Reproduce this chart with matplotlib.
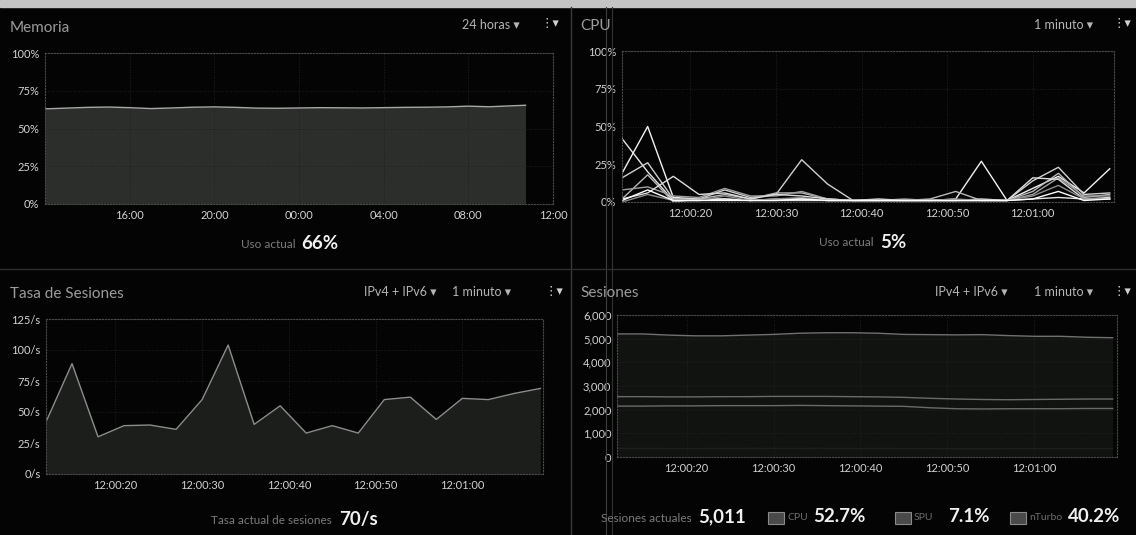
import matplotlib.pyplot as plt
from matplotlib.patches import Rectangle
from matplotlib.lines import Line2D

plt.rcParams['font.family'] = ['Lato', 'DejaVu Sans']

W, H = 1136, 535
BG = '#040404'

# ---- Memoria (24 horas), hours since 00:00 of the day before ----
mem_hours = [12, 13, 14, 15, 16, 17, 18, 19, 20, 21, 22, 23, 24,
             25, 26, 27, 28, 29, 30, 31, 32, 33, 34, 34.7]
mem_pct = [63.0, 63.5, 64.0, 64.2, 63.8, 63.2, 63.6, 64.1, 64.3, 64.0, 63.5, 63.4,
           63.6, 63.8, 63.7, 63.6, 63.8, 64.0, 64.1, 64.3, 64.8, 64.4, 65.0, 65.4]
mem_ticks = [16, 20, 24, 28, 32, 36]
mem_labels = ['16:00', '20:00', '00:00', '04:00', '08:00', '12:00']

# ---- 1 minute charts, seconds after 12:00:00 ----
secs = [12, 15, 18, 21, 24, 27, 30, 33, 36, 39, 42, 45, 48, 51, 54, 57, 60, 63, 66, 69]
sec_ticks = [20, 30, 40, 50, 60]
sec_labels = ['12:00:20', '12:00:30', '12:00:40', '12:00:50', '12:01:00']

# CPU per core (%)
cpu_cores = [
    [42, 20, 1, 1, 2, 1, 1, 1, 1, 1, 1, 1, 1, 1, 1, 1, 2, 3, 2, 2],
    [19, 50, 3, 2, 2, 1, 2, 2, 1, 1, 1, 1, 1, 2, 27, 1, 9, 17, 6, 22],
    [16, 26, 2, 2, 8, 3, 5, 28, 12, 1, 1, 1, 1, 1, 1, 1, 14, 23, 5, 6],
    [2, 18, 0, 2, 5, 2, 6, 6, 2, 1, 1, 1, 2, 7, 1, 1, 7, 19, 3, 5],
    [8, 10, 4, 3, 9, 4, 4, 7, 2, 1, 1, 2, 1, 1, 1, 1, 5, 16, 4, 4],
    [2, 6, 17, 5, 6, 2, 5, 4, 2, 1, 2, 1, 1, 1, 2, 1, 16, 15, 2, 3],
    [0, 5, 1, 1, 4, 1, 2, 3, 1, 1, 1, 1, 1, 2, 1, 1, 4, 11, 2, 2],
    [1, 8, 1, 1, 1, 1, 1, 2, 1, 1, 1, 1, 1, 1, 1, 1, 2, 7, 1, 2],
]
cpu_colors = ['#e6e6e6', '#f2f2f2', '#d0d0d0', '#b8b8b8', '#a0a0a0', '#dcdcdc', '#8c8c8c', '#ffffff']

# Tasa de sesiones (/s)
tasa = [42, 89, 30, 39, 39.5, 36, 60, 104, 40, 55, 33, 39, 33, 60, 62, 44, 61, 60, 65, 69]

# Sesiones
ses_total = [5200, 5200, 5150, 5120, 5120, 5150, 5180, 5230, 5250, 5250,
             5230, 5180, 5170, 5160, 5170, 5130, 5100, 5100, 5060, 5040]
ses_cpu = [2550, 2550, 2540, 2540, 2550, 2550, 2560, 2560, 2560, 2550,
           2540, 2520, 2480, 2450, 2430, 2420, 2430, 2440, 2450, 2450]
ses_nturbo = [2150, 2150, 2160, 2160, 2170, 2170, 2170, 2180, 2170, 2160,
              2150, 2140, 2080, 2040, 2030, 2040, 2040, 2040, 2050, 2050]
ses_spu = [360, 360, 355, 355, 360, 360, 365, 365, 360, 360,
           360, 355, 355, 350, 350, 355, 355, 355, 355, 356]


fig = plt.figure(figsize=(W / 100, H / 100), dpi=100, facecolor=BG)


def px_axes(x0, y0, x1, y1):
    return fig.add_axes([x0 / W, 1 - y1 / H, (x1 - x0) / W, (y1 - y0) / H])


def px_text(x, y, s, **kw):
    kw.setdefault('va', 'center')
    return fig.text(x / W, 1 - y / H, s, **kw)


def vline(x, color, lw=1):
    fig.add_artist(Line2D([x / W, x / W], [0, 1 - 7 / H], transform=fig.transFigure,
                          color=color, lw=lw))


def style(ax, xlim, ylim, xticks, xlabels, yticks, ylabels):
    ax.set_facecolor('none')
    ax.set_xlim(xlim)
    ax.set_ylim(ylim)
    ax.set_xticks(xticks, xlabels)
    ax.set_yticks(yticks, ylabels)
    ax.tick_params(length=0, labelsize=8, colors='#d2d2d2', pad=4)
    ax.grid(color='#202020', linestyle=':', linewidth=0.7)
    for sp in ax.spines.values():
        sp.set_color('#4a4a4a')
        sp.set_linestyle(':')
        sp.set_linewidth(0.8)


# photo edges / panel dividers
fig.add_artist(Rectangle((0, 1 - 7 / H), 1, 7 / H, transform=fig.transFigure,
                         color='#c4c4c4', zorder=0))
vline(571, '#3a3a3a')
vline(606, '#3e3e3e', 0.8)
vline(612, '#333333', 0.8)
fig.add_artist(Line2D([0, 1], [1 - 269 / H, 1 - 269 / H], transform=fig.transFigure,
                      color='#2e2e2e', lw=1))

hdr = dict(color='#b5b5b5', fontsize=9)
title = dict(color='#9c9c9c', fontsize=11)
dim = dict(color='#7c7c7c', fontsize=8.5)
small = dict(color='#6e6e6e', fontsize=7.5)
big = dict(color='#f0f0f0', fontsize=13.5, fontweight='bold')
menu = dict(color='#d0d0d0', fontsize=9, family='DejaVu Sans')

# ---------- Memoria ----------
ax = px_axes(45, 53, 553, 204)
style(ax, (12, 36), (0, 100), mem_ticks, mem_labels,
      [0, 25, 50, 75, 100], ['0%', '25%', '50%', '75%', '100%'])
ax.fill_between(mem_hours, mem_pct, color='#2c2e2c', lw=0)
ax.plot(mem_hours, mem_pct, color='#a8a8a8', lw=1)
px_text(10, 28, 'Memoria', **title)
px_text(462, 25, '24 horas \u25be', **hdr)
px_text(540, 24, '\u22ee\u25be', **menu)
px_text(296, 245, 'Uso actual', ha='right', **dim)
px_text(301, 244, '66%', ha='left', **big)

# ---------- CPU ----------
ax = px_axes(622, 51, 1114, 202)
style(ax, (12, 69.5), (0, 100), sec_ticks, sec_labels,
      [0, 25, 50, 75, 100], ['0%', '25%', '50%', '75%', '100%'])
for vals, c in zip(cpu_cores, cpu_colors):
    ax.plot(secs, vals, color=c, lw=1)
px_text(580, 26, 'CPU', **title)
px_text(1034, 25, '1 minuto \u25be', **hdr)
px_text(1112, 24, '\u22ee\u25be', **menu)
px_text(874, 243, 'Uso actual', ha='right', **dim)
px_text(880, 242, '5%', ha='left', **big)

# ---------- Tasa de Sesiones ----------
ax = px_axes(46, 319, 543, 474)
style(ax, (12, 69.3), (0, 125), sec_ticks, sec_labels,
      [0, 25, 50, 75, 100, 125], ['0/s', '25/s', '50/s', '75/s', '100/s', '125/s'])
ax.fill_between(secs, tasa, color='#1c1e1c', lw=0)
ax.plot(secs, tasa, color='#8c8c8c', lw=1)
px_text(10, 294, 'Tasa de Sesiones', **title)
px_text(364, 292, 'IPv4 + IPv6 \u25be', **hdr)
px_text(452, 292, '1 minuto \u25be', **hdr)
px_text(544, 291, '\u22ee\u25be', **menu)
px_text(332, 521, 'Tasa actual de sesiones', ha='right', **dim)
px_text(339, 520, '70/s', ha='left', **big)

# ---------- Sesiones ----------
ax = px_axes(617, 315, 1117, 457)
style(ax, (12, 69.5), (0, 6000), sec_ticks, sec_labels,
      [0, 1000, 2000, 3000, 4000, 5000, 6000],
      ['0', '1,000', '2,000', '3,000', '4,000', '5,000', '6,000'])
ax.fill_between(secs, ses_total, color='#111311', lw=0)
ax.plot(secs, ses_total, color='#707070', lw=1)
ax.plot(secs, ses_cpu, color='#6a6a6a', lw=1)
ax.plot(secs, ses_nturbo, color='#6a6a6a', lw=1)
ax.plot(secs, ses_spu, color='#1e1e1e', lw=1)
px_text(580, 293, 'Sesiones', **title)
px_text(935, 292, 'IPv4 + IPv6 \u25be', **hdr)
px_text(1034, 292, '1 minuto \u25be', **hdr)
px_text(1112, 291, '\u22ee\u25be', **menu)

px_text(692, 518, 'Sesiones actuales', ha='right', **dim)
px_text(698, 517, '5,011', ha='left', **big)
legend_items = [(768, 'CPU', 813, '52.7%'), (895, 'SPU', 948, '7.1%'),
                (1010, 'nTurbo', 1068, '40.2%')]
for x0, name, xv, pct in legend_items:
    fig.add_artist(Rectangle((x0 / W, 1 - 524 / H), 16 / W, 12 / H, transform=fig.transFigure,
                             facecolor='#4a4a4a', edgecolor='#8a8a8a', lw=0.8))
    px_text(x0 + 19, 518, name, ha='left', **small)
    px_text(xv, 517, pct, ha='left', **big)

fig.savefig('out.png', dpi=100, facecolor=BG)
